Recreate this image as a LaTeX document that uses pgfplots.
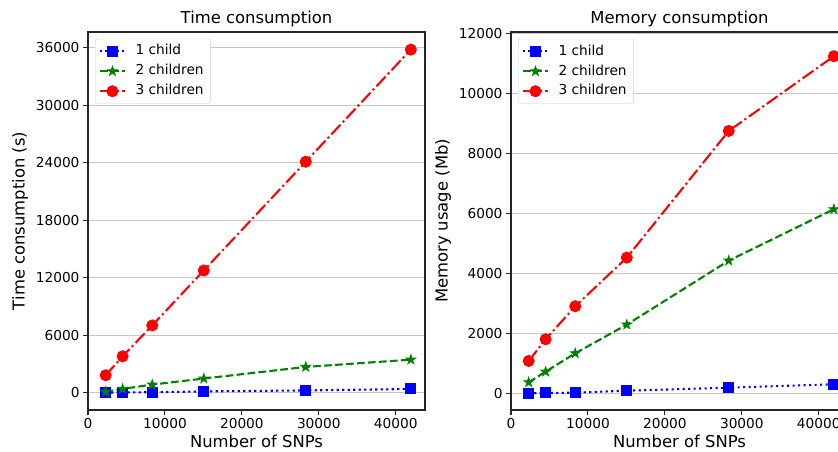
\documentclass[border=0pt]{standalone}
\usepackage{fontspec}
\setmainfont{DejaVu Sans}
\usepackage{pgfplots}
\pgfplotsset{compat=1.18}
\usetikzlibrary{plotmarks}

\definecolor{cOne}{RGB}{0,0,255}
\definecolor{cTwo}{RGB}{0,128,0}
\definecolor{cThree}{RGB}{255,0,0}
\newcommand\tickfont{\fontsize{13.7}{16}\selectfont}
\newcommand\labfont{\fontsize{16.4}{19}\selectfont}

% filled five-pointed star, like matplotlib's '*'
\pgfdeclareplotmark{fstar}{%
  \pgfpathmoveto{\pgfpointpolar{90}{\pgfplotmarksize}}%
  \pgfpathlineto{\pgfpointpolar{126}{0.382\pgfplotmarksize}}%
  \pgfpathlineto{\pgfpointpolar{162}{\pgfplotmarksize}}%
  \pgfpathlineto{\pgfpointpolar{198}{0.382\pgfplotmarksize}}%
  \pgfpathlineto{\pgfpointpolar{234}{\pgfplotmarksize}}%
  \pgfpathlineto{\pgfpointpolar{270}{0.382\pgfplotmarksize}}%
  \pgfpathlineto{\pgfpointpolar{306}{\pgfplotmarksize}}%
  \pgfpathlineto{\pgfpointpolar{342}{0.382\pgfplotmarksize}}%
  \pgfpathlineto{\pgfpointpolar{18}{\pgfplotmarksize}}%
  \pgfpathlineto{\pgfpointpolar{54}{0.382\pgfplotmarksize}}%
  \pgfpathclose
  \pgfusepathqfillstroke}

\pgfplotsset{
  panel/.style={
    scale only axis, width=337pt, height=378pt,
    xmin=0, xmax=43800,
    xtick={0,10000,20000,30000,40000},
    scaled ticks=false,
    /pgf/number format/fixed,
    /pgf/number format/1000 sep={},
    /pgf/number format/assume math mode=true,
    tick align=outside, tick pos=left,
    major tick length=5pt,
    every tick/.style={black!85, line width=1.1pt},
    axis line style={black!85, line width=1.1pt},
    ymajorgrids, major grid style={black!22, line width=1pt},
    ticklabel style={font=\tickfont},
    title style={font=\labfont, at={(axis description cs:0.5,1.0055)}, anchor=base},
    xlabel style={font=\labfont, at={(axis description cs:0.5,-0.1005)}, anchor=base},
    ylabel style={font=\labfont, at={(axis description cs:-0.2018,0.5)}, anchor=center},
    legend cell align=left,
    legend style={at={(0.0208,0.982)}, anchor=north west,
      draw=black!20, fill=white, rounded corners=2.5pt, font=\tickfont,
      inner xsep=3.7pt, inner ysep=5.5pt, row sep=6.5pt, column sep=6.6pt,
      nodes={inner xsep=3pt, inner ysep=0pt, text height=10.5pt, text depth=3pt}},
    legend image code/.code={%
      \draw[mark repeat=2,mark phase=2] plot coordinates {(0pt,0pt) (12.5pt,0pt) (25pt,0pt)};},
  },
  one/.style={color=cOne, line width=2.08pt, dash pattern=on 2.1pt off 3.4pt,
    mark=square*, mark size=5pt, mark options={solid, line width=1pt}},
  two/.style={color=cTwo, line width=2.08pt, dash pattern=on 7.7pt off 3.3pt,
    mark=fstar, mark size=5pt, mark options={solid, line width=0.8pt}},
  three/.style={color=cThree, line width=2.08pt, dash pattern=on 13.3pt off 3.3pt on 2.1pt off 3.3pt,
    mark=*, mark size=5.5pt, mark options={solid, line width=1pt}},
}

\begin{document}
\begin{tikzpicture}
\begin{axis}[panel, at={(88pt,42pt)}, anchor=south west,
  ymin=-1790, ymax=37630, ytick={0,6000,...,36000},
  title={Time consumption}, xlabel={Number of SNPs}, ylabel={Time consumption (s)}]
\addplot[one] coordinates {(2300,0) (4500,50) (8350,60) (15050,150) (28300,250) (41960,400)};
\addplot[two] coordinates {(2300,100) (4500,410) (8350,860) (15050,1490) (28300,2700) (41960,3460)};
\addplot[three] coordinates {(2300,1830) (4500,3810) (8350,7030) (15050,12760) (28300,24100) (41960,35790)};
\legend{1 child, 2 children, 3 children}
\end{axis}
\begin{axis}[panel, at={(511pt,42pt)}, anchor=south west,
  ymin=-557, ymax=12040, ytick={0,2000,...,12000},
  title={Memory consumption}, xlabel={Number of SNPs}, ylabel={Memory usage (Mb)}]
\addplot[one] coordinates {(2300,0) (4500,10) (8350,20) (15050,87) (28300,187) (41960,300)};
\addplot[two] coordinates {(2300,367) (4500,720) (8350,1333) (15050,2287) (28300,4420) (41960,6133)};
\addplot[three] coordinates {(2300,1077) (4500,1800) (8350,2900) (15050,4520) (28300,8743) (41960,11233)};
\legend{1 child, 2 children, 3 children}
\end{axis}
\pgfresetboundingbox
\useasboundingbox (0pt,0pt) rectangle (838pt,452pt);
\end{tikzpicture}
\end{document}
